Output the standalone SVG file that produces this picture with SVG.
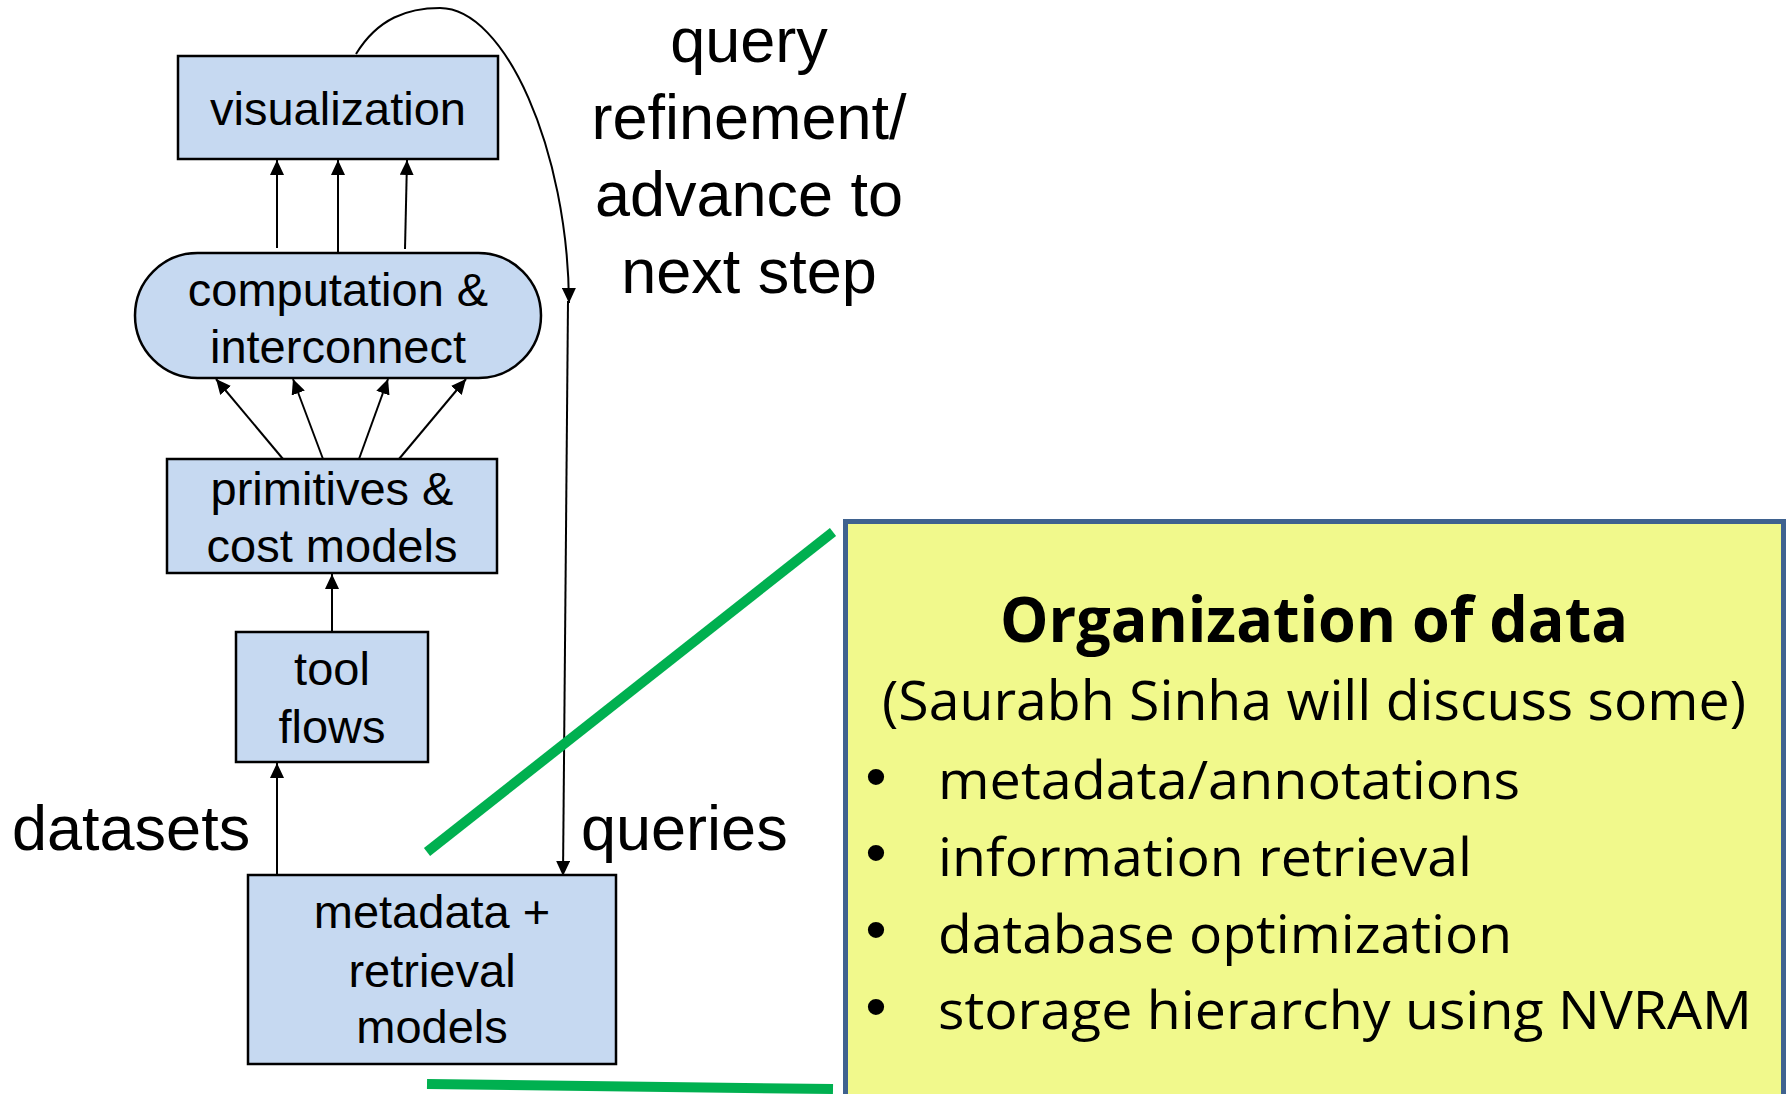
<svg xmlns="http://www.w3.org/2000/svg" width="1789" height="1094" viewBox="0 0 1789 1094">
  <defs>
    <style>
      .box { fill: #c6d9f1; stroke: #000; stroke-width: 2.5; }
      .lbl { font-family: "Liberation Sans", Arial, sans-serif; font-size: 47px; fill: #000; text-anchor: middle; }
      .big { font-family: "Liberation Sans", Arial, sans-serif; font-size: 63px; fill: #000; }
      .conn { fill: none; stroke: #000; stroke-width: 2; }
      .green { fill: none; stroke: #00b050; stroke-width: 10; }
      .note { fill: #f1f98c; stroke: #3f628f; stroke-width: 5; }
      .cal { font-family: "Open Sans", "Noto Sans", sans-serif; fill: #000; }
      .dot { font-family: "Liberation Sans", Arial, sans-serif; font-size: 60px; fill: #000; text-anchor: middle; }
    </style>
    <marker id="arrow" markerUnits="userSpaceOnUse" markerWidth="15" markerHeight="14" refX="15" refY="7" orient="auto">
      <path d="M0,0 L15,7 L0,14 z" fill="#000"/>
    </marker>
  </defs>

  <rect width="1789" height="1094" fill="#fff"/>

  <!-- connectors -->
  <g id="connectors">
    <line class="conn" x1="277" y1="248" x2="277" y2="160" marker-end="url(#arrow)"/>
    <line class="conn" x1="338" y1="253" x2="338" y2="160" marker-end="url(#arrow)"/>
    <line class="conn" x1="405" y1="249" x2="407" y2="160" marker-end="url(#arrow)"/>

    <line class="conn" x1="283" y1="459" x2="216" y2="379" marker-end="url(#arrow)"/>
    <line class="conn" x1="323" y1="459" x2="293" y2="379" marker-end="url(#arrow)"/>
    <line class="conn" x1="359" y1="459" x2="388" y2="379" marker-end="url(#arrow)"/>
    <line class="conn" x1="399" y1="459" x2="466" y2="379" marker-end="url(#arrow)"/>

    <line class="conn" x1="332" y1="631" x2="332" y2="574" marker-end="url(#arrow)"/>
    <line class="conn" x1="277" y1="875" x2="277" y2="763" marker-end="url(#arrow)"/>

    <path class="conn" d="M356,54 C378,18 408,8 440,8 C505,8 568,150 569,303" marker-end="url(#arrow)"/>
    <line class="conn" x1="568" y1="301" x2="563" y2="876" marker-end="url(#arrow)"/>
  </g>

  <!-- free labels -->
  <g id="labels">
    <text class="big" x="749" y="62" text-anchor="middle">query</text>
    <text class="big" x="749" y="139" text-anchor="middle">refinement/</text>
    <text class="big" x="749" y="216" text-anchor="middle">advance to</text>
    <text class="big" x="749" y="293" text-anchor="middle">next step</text>
    <text class="big" x="12" y="850">datasets</text>
    <text class="big" x="581" y="850">queries</text>
  </g>

  <g id="visualization">
    <rect class="box" x="178" y="56" width="320" height="103"/>
    <text class="lbl" x="338" y="125">visualization</text>
  </g>

  <g id="computation">
    <rect class="box" x="135" y="253" width="406" height="125" rx="62.5" ry="62.5"/>
    <text class="lbl" x="338" y="306">computation &amp;</text>
    <text class="lbl" x="338" y="363">interconnect</text>
  </g>

  <g id="primitives">
    <rect class="box" x="167" y="459" width="330" height="114"/>
    <text class="lbl" x="332" y="505">primitives &amp;</text>
    <text class="lbl" x="332" y="562">cost models</text>
  </g>

  <g id="toolflows">
    <rect class="box" x="236" y="632" width="192" height="130"/>
    <text class="lbl" x="332" y="685">tool</text>
    <text class="lbl" x="332" y="743">flows</text>
  </g>

  <g id="metadata">
    <rect class="box" x="248" y="875" width="368" height="189"/>
    <text class="lbl" x="432" y="928">metadata +</text>
    <text class="lbl" x="432" y="987">retrieval</text>
    <text class="lbl" x="432" y="1043">models</text>
  </g>

  <!-- callout lines -->
  <g id="callout-lines">
    <line class="green" x1="427" y1="852" x2="833" y2="532"/>
    <line class="green" x1="427" y1="1084" x2="833" y2="1089"/>
  </g>

  <g id="organization">
    <rect class="note" x="845.5" y="521.5" width="938" height="600"/>
    <text class="cal" x="1314" y="642" font-size="63" font-weight="bold" text-anchor="middle" textLength="628" lengthAdjust="spacingAndGlyphs">Organization of data</text>
    <text class="cal" x="1314" y="720" font-size="55" text-anchor="middle" textLength="864" lengthAdjust="spacingAndGlyphs">(Saurabh Sinha will discuss some)</text>
    <text class="dot" x="876" y="797">•</text>
    <text class="cal" x="938" y="799" font-size="53" textLength="582" lengthAdjust="spacingAndGlyphs">metadata/annotations</text>
    <text class="dot" x="876" y="873">•</text>
    <text class="cal" x="938" y="876" font-size="53" textLength="534" lengthAdjust="spacingAndGlyphs">information retrieval</text>
    <text class="dot" x="876" y="950">•</text>
    <text class="cal" x="938" y="953" font-size="53" textLength="574" lengthAdjust="spacingAndGlyphs">database optimization</text>
    <text class="dot" x="876" y="1027">•</text>
    <text class="cal" x="938" y="1029" font-size="53" textLength="814" lengthAdjust="spacingAndGlyphs">storage hierarchy using NVRAM</text>
  </g>
</svg>
